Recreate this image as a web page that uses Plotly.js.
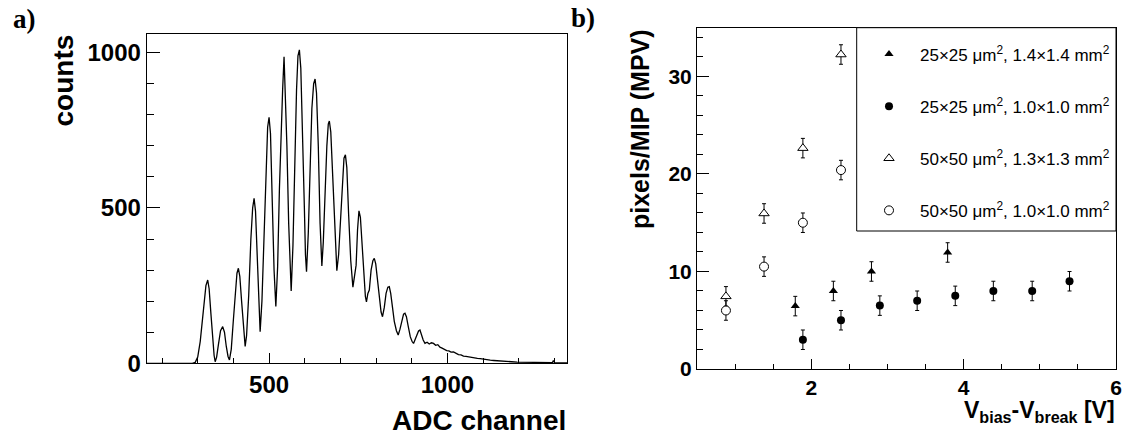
<!DOCTYPE html>
<html>
<head>
<meta charset="utf-8">
<script src="https://cdn.plot.ly/plotly-3.0.1.min.js"></script>
<style>html,body{margin:0;padding:0;background:#fff;}#chart{width:1123px;height:436px;}</style>
</head>
<body>
<div id="chart"></div>
<script>
// ---- Panel a) ADC spectrum (read from picture) ----
const adcChannel = [157,285,293,300,307,313,318,323,328,332,337,342,346,349,353,358,364,370,375,380,385,389,394,400,405,410,414,418,423,428,433,437,443,449,454,458,462,467,471,475,480,486,491,496,500,504,509,514,519,524,529,534,538,542,545,550,555,559,562,567,572,577,581,585,589,594,599,602,605,610,615,620,625,629,633,638,643,648,652,657,662,666,669,673,678,684,690,695,700,705,710,714,718,723,729,735,740,744,748,752,756,761,766,770,773,777,781,786,791,795,799,804,809,814,818,823,828,833,837,841,846,851,857,862,867,872,877,881,885,890,896,901,905,910,915,919,923,927,932,937,943,949,955,961,967,973,979,985,991,998,1004,1010,1017,1024,1031,1038,1045,1052,1060,1068,1076,1084,1092,1100,1110,1120,1130,1138,1150,1165,1180,1195,1210,1230,1250,1270,1290,1294,1297,1300,1310,1336];
const counts = [0,0,3,20,70,140,200,250,268,240,160,70,25,5,20,60,105,118,100,55,22,11,45,140,230,290,306,280,200,110,54,90,220,400,500,531,490,340,180,102,200,430,630,760,792,740,520,300,183,310,560,780,880,987,890,700,450,290,233,380,650,880,990,1009,950,760,500,350,295,420,630,820,900,915,870,700,450,313,390,560,700,770,780,745,620,420,298,350,460,580,660,671,630,480,330,245,290,316,430,491,470,380,270,215,198,225,236,300,330,338,320,270,210,165,150,180,225,245,247,225,180,135,105,91,110,140,158,161,150,120,85,70,64,78,95,104,107,92,75,64,68,62,66,64,58,60,52,49,45,41,40,36,37,32,28,27,23,22,20,18,17,16,15,13,11,10,9,8,7,6,5,4,4,3,3,2,2,2,9,2,1,1];

// ---- Panel b) pixels/MIP vs overvoltage ----
const seriesNames = [
  "25×25 μm<sup>2</sup>, 1.4×1.4 mm<sup>2</sup>",
  "25×25 μm<sup>2</sup>, 1.0×1.0 mm<sup>2</sup>",
  "50×50 μm<sup>2</sup>, 1.3×1.3 mm<sup>2</sup>",
  "50×50 μm<sup>2</sup>, 1.0×1.0 mm<sup>2</sup>"
];
const vTri25x14 = [1.79, 2.29, 2.79, 3.79];
const mpvTri25x14 = [6.45, 8.0, 10.0, 11.95];
const errTri25x14 = [1, 1, 1, 1];
const vCirc25x10 = [1.89, 2.39, 2.90, 3.39, 3.89, 4.39, 4.90, 5.39];
const mpvCirc25x10 = [3.0, 5.0, 6.5, 7.0, 7.5, 8.0, 8.0, 9.0];
const errCirc25x10 = [1, 1, 1, 1, 1, 1, 1, 1];
const vTri50x13 = [0.88, 1.38, 1.89, 2.39];
const mpvTri50x13 = [7.45, 15.95, 22.65, 32.25];
const errTri50x13 = [1, 1, 1, 1];
const vCirc50x10 = [0.88, 1.38, 1.89, 2.39];
const mpvCirc50x10 = [6.0, 10.5, 15.0, 20.4];
const errCirc50x10 = [1, 1, 1, 1];

const W = 1123, H = 436;
const px = v => v / W;
const py = v => 1 - v / H;
const FONT = "Liberation Sans, Arial, sans-serif";

function errBar(arr) {
  return {type: 'data', array: arr, visible: true, color: '#000', thickness: 1, width: 2};
}

const traces = [
  {x: adcChannel, y: counts, type: 'scatter', mode: 'lines', xaxis: 'x', yaxis: 'y',
   line: {color: '#000', width: 1.3}, showlegend: false, hoverinfo: 'skip'},
  {x: vTri25x14, y: mpvTri25x14, error_y: errBar(errTri25x14), type: 'scatter', mode: 'markers',
   xaxis: 'x2', yaxis: 'y2', name: seriesNames[0], legendgroup: 'g1',
   marker: {symbol: 'triangle-up', size: 8, color: '#000'}},
  {x: vCirc25x10, y: mpvCirc25x10, error_y: errBar(errCirc25x10), type: 'scatter', mode: 'markers',
   xaxis: 'x2', yaxis: 'y2', name: seriesNames[1], legendgroup: 'g2',
   marker: {symbol: 'circle', size: 8, color: '#000'}},
  {x: vTri50x13, y: mpvTri50x13, error_y: errBar(errTri50x13), type: 'scatter', mode: 'markers',
   xaxis: 'x2', yaxis: 'y2', name: seriesNames[2], legendgroup: 'g3',
   marker: {symbol: 'triangle-up', size: 9, color: '#fff', line: {color: '#000', width: 1}}},
  {x: vCirc50x10, y: mpvCirc50x10, error_y: errBar(errCirc50x10), type: 'scatter', mode: 'markers',
   xaxis: 'x2', yaxis: 'y2', name: seriesNames[3], legendgroup: 'g4',
   marker: {symbol: 'circle', size: 9, color: '#fff', line: {color: '#000', width: 1}}}
];

const axBase = {
  showgrid: false, zeroline: false, showline: true, mirror: true,
  linecolor: '#000', linewidth: 1, ticks: 'inside', tickcolor: '#000', tickwidth: 1,
  fixedrange: true
};

const layout = {
  width: W, height: H,
  margin: {l: 0, r: 0, t: 0, b: 0},
  paper_bgcolor: '#fff', plot_bgcolor: '#fff',
  font: {family: FONT, color: '#000'},
  showlegend: true,
  legend: {
    x: px(858), y: py(36.5), xanchor: 'left', yanchor: 'top',
    bgcolor: 'rgba(0,0,0,0)', borderwidth: 0,
    font: {family: FONT, size: 17, color: '#000'},
    itemwidth: 52, tracegroupgap: 27, traceorder: 'grouped'
  },
  xaxis: Object.assign({}, axBase, {
    domain: [px(146.7), px(567.3)], anchor: 'y', range: [157, 1336],
    tick0: 0, dtick: 500, ticklen: 10,
    minor: {dtick: 100, tick0: 0, ticklen: 5, ticks: 'inside', tickcolor: '#000'},
    tickfont: {family: FONT, size: 24, weight: 'bold'}
  }),
  yaxis: Object.assign({}, axBase, {
    domain: [1 - 363.3 / H, 1 - 33.7 / H], anchor: 'x', range: [0, 1061],
    tick0: 0, dtick: 500, ticklen: 13,
    minor: {dtick: 100, tick0: 0, ticklen: 7, ticks: 'inside', tickcolor: '#000'},
    tickfont: {family: FONT, size: 24, weight: 'bold'}
  }),
  xaxis2: Object.assign({}, axBase, {
    domain: [px(697), px(1116)], anchor: 'y2', range: [0.5, 6],
    tick0: 0, dtick: 2, ticklen: 10.5,
    minor: {dtick: 0.5, tick0: 0, ticklen: 5.5, ticks: 'inside', tickcolor: '#000'},
    tickfont: {family: FONT, size: 21, weight: 'bold'}
  }),
  yaxis2: Object.assign({}, axBase, {
    domain: [1 - 369 / H, 1 - 27.7 / H], anchor: 'x2', range: [0, 35],
    tick0: 0, dtick: 10, ticklen: 12,
    minor: {dtick: 2, tick0: 0, ticklen: 6, ticks: 'inside', tickcolor: '#000'},
    tickfont: {family: FONT, size: 21, weight: 'bold'}
  }),
  shapes: [
    {type: 'rect', xref: 'paper', yref: 'paper', layer: 'above',
     x0: px(856.7), x1: px(1116), y0: py(231), y1: py(27.7),
     line: {color: '#000', width: 1}, fillcolor: '#fff'}
  ],
  annotations: [
    {text: 'a)', xref: 'paper', yref: 'paper', x: px(11), y: py(19), xanchor: 'left', yanchor: 'middle',
     showarrow: false, font: {family: 'Liberation Serif, Times New Roman, serif', size: 27, weight: 'bold'}},
    {text: 'b)', xref: 'paper', yref: 'paper', x: px(569), y: py(18), xanchor: 'left', yanchor: 'middle',
     showarrow: false, font: {family: 'Liberation Serif, Times New Roman, serif', size: 27, weight: 'bold'}},
    {text: 'counts', xref: 'paper', yref: 'paper', x: px(63.5), y: py(81), xanchor: 'center', yanchor: 'middle',
     textangle: -90, showarrow: false, font: {family: FONT, size: 28, weight: 'bold'}},
    {text: 'ADC channel', xref: 'paper', yref: 'paper', x: px(568), y: py(420), xanchor: 'right', yanchor: 'middle',
     showarrow: false, font: {family: FONT, size: 28, weight: 'bold'}},
    {text: 'pixels/MIP (MPV)', xref: 'paper', yref: 'paper', x: px(640), y: py(129), xanchor: 'center', yanchor: 'middle',
     textangle: -90, showarrow: false, font: {family: FONT, size: 25, weight: 'bold'}},
    {text: 'V<sub>bias</sub>-V<sub>break</sub> [V]', xref: 'paper', yref: 'paper', x: px(1117), y: py(411),
     xanchor: 'right', yanchor: 'middle', showarrow: false, font: {family: FONT, size: 23, weight: 'bold'}}
  ]
};

Plotly.newPlot('chart', traces, layout, {staticPlot: true, displayModeBar: false});
</script>
</body>
</html>
